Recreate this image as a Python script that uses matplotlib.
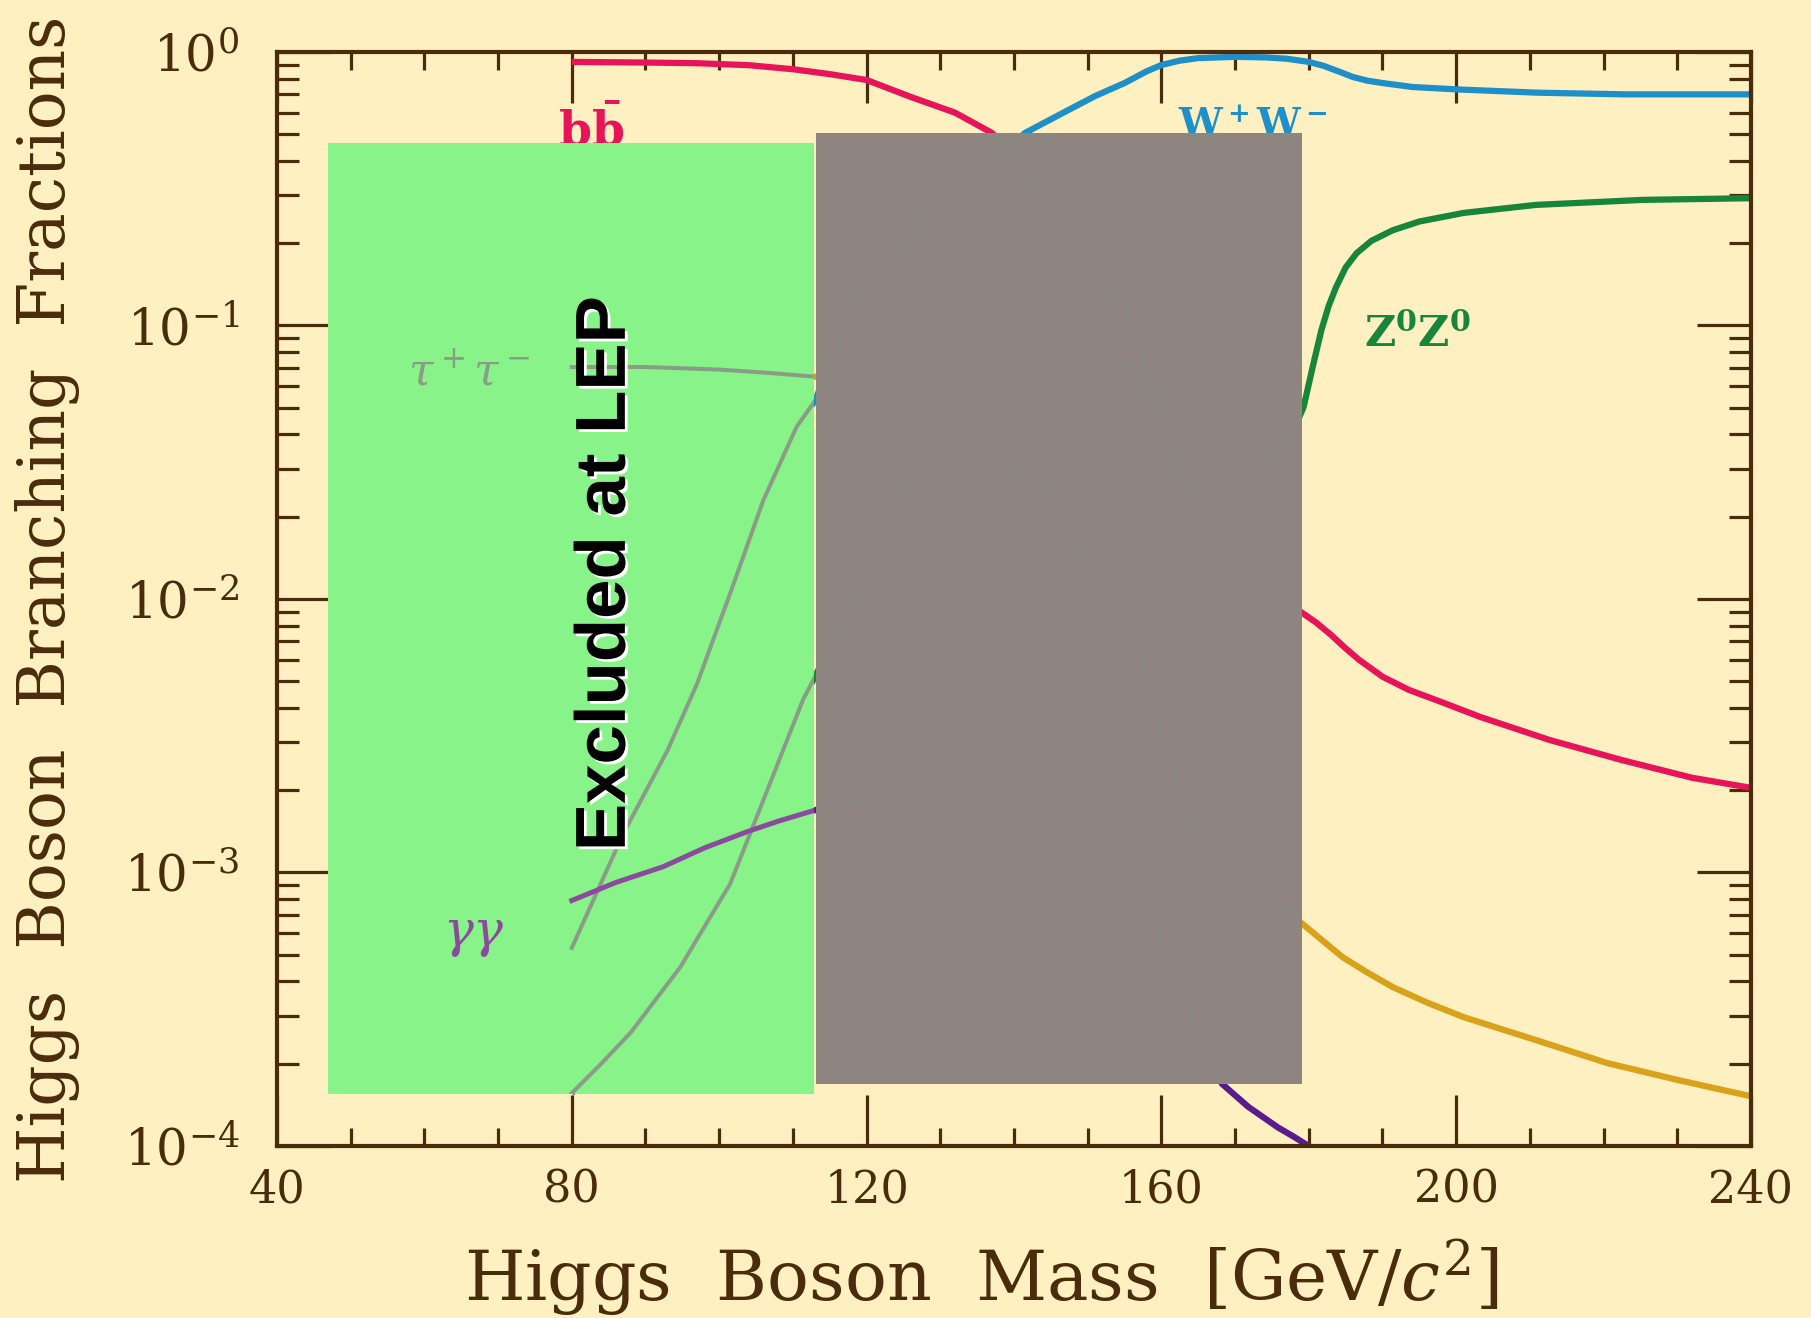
import matplotlib
matplotlib.use("Agg")
import matplotlib.pyplot as plt
import matplotlib.patheffects as pe
from matplotlib.patches import Rectangle
from matplotlib.ticker import MultipleLocator, LogLocator, NullFormatter, FixedLocator

plt.rcParams['mathtext.fontset'] = 'dejavuserif'
plt.rcParams['font.family'] = ['DejaVu Serif', 'DejaVu Sans']

# ---------------- data ----------------
bb_mass = [80, 90, 97, 104, 110, 115, 120, 126, 132, 137, 141, 145, 150, 154, 157, 160, 163, 167,
           172, 179.1, 181, 183, 185, 186.8, 190, 193.6, 198, 203.2, 212.7, 222.4, 232, 240]
bb_br = [0.92, 0.915, 0.91, 0.895, 0.865, 0.83, 0.79, 0.685, 0.60, 0.506, 0.40, 0.29, 0.20, 0.135,
         0.085, 0.045, 0.026, 0.017, 0.012, 0.0089, 0.0082, 0.0074, 0.0066, 0.0060, 0.0052,
         0.00465, 0.0042, 0.00371, 0.00305, 0.00258, 0.00222, 0.00204]

tau_mass = [80, 90, 100, 107, 113, 120, 126.6, 133, 140, 145, 150, 154, 157, 160, 163, 167.3, 172,
            179.1, 182, 184.6, 188, 191.4, 196, 201, 210.8, 220.5, 230.2, 240]
tau_br = [0.0705, 0.0705, 0.069, 0.067, 0.065, 0.058, 0.050, 0.041, 0.031, 0.023, 0.015, 0.0100,
          0.0063, 0.0034, 0.0019, 0.00121, 0.00090, 0.00065, 0.00056, 0.00049, 0.00043,
          0.000381, 0.000335, 0.000296, 0.000244, 0.000201, 0.000174, 0.000152]

ww_mass = [80, 87, 93, 97, 101.5, 106, 110.5, 113, 117.5, 122, 126.6, 131, 135.7, 141.5, 147.4,
           151, 155, 158, 160, 162.5, 165, 170, 174.3, 177, 180, 182, 184, 186, 188, 190, 194,
           200, 211, 223, 240]
ww_br = [5.3e-4, 1.39e-3, 2.8e-3, 4.9e-3, 0.0105, 0.023, 0.0426, 0.053, 0.107, 0.165, 0.223,
         0.30, 0.37, 0.506, 0.614, 0.69, 0.77, 0.85, 0.896, 0.93, 0.95, 0.96, 0.955, 0.945, 0.92,
         0.89, 0.85, 0.81, 0.785, 0.77, 0.745, 0.73, 0.71, 0.70, 0.70]

zz_mass = [80, 84, 88, 94.7, 101.5, 106, 111.4, 113, 117.5, 122, 126.6, 131, 135.7, 142, 149,
           153, 156, 158.5, 160.5, 163, 166.3, 170, 174, 177, 179.3, 180.5, 181.7, 182.7, 183.7,
           185, 186.5, 188.5, 191.4, 195, 201, 210.8, 225.4, 240]
zz_br = [1.56e-4, 2.0e-4, 2.6e-4, 4.5e-4, 9.1e-4, 1.84e-3, 4.3e-3, 5.2e-3, 9.1e-3, 0.016, 0.027,
         0.038, 0.048, 0.066, 0.077, 0.075, 0.0687, 0.055, 0.0415, 0.029, 0.0217, 0.0225, 0.028,
         0.036, 0.0504, 0.07, 0.096, 0.118, 0.138, 0.163, 0.184, 0.204, 0.223, 0.240, 0.258,
         0.276, 0.288, 0.292]

gam_mass = [80, 86, 92.4, 98, 103.8, 108, 113, 120, 126.6, 133, 140, 145, 149.2, 153, 156,
            158.5, 160.5, 163, 165, 168.2, 171.8, 175.8, 178, 180.5]
gam_br = [7.9e-4, 9.2e-4, 1.05e-3, 1.23e-3, 1.41e-3, 1.54e-3, 1.69e-3, 1.9e-3, 2.0e-3, 1.95e-3,
          1.74e-3, 1.55e-3, 1.32e-3, 1.1e-3, 9.1e-4, 7.0e-4, 5.2e-4, 3.5e-4, 2.6e-4, 1.69e-4,
          1.39e-4, 1.17e-4, 1.08e-4, 9.8e-5]

x_ticks = [40, 80, 120, 160, 200, 240]
y_ticks = [1e-4, 1e-3, 1e-2, 1e-1, 1e0]
y_tick_labels = [r'$10^{-4}$', r'$10^{-3}$', r'$10^{-2}$', r'$10^{-1}$', r'$10^{0}$']

# overlay boxes: [x0, x1, y0, y1]
lep_box = [46.9, 112.9, 1.55e-4, 0.465]
gray_box = [113.1, 179.1, 1.69e-4, 0.506]

# ---------------- style ----------------
BG = '#FEF0C1'
INK = '#4A2C0C'
C_BB = '#E8145A'
C_WW = '#1E8FC8'
C_ZZ = '#17853A'
C_TAU = '#D9A21A'
C_GAM = '#5A1C8C'
C_GREEN = '#88F388'
C_GRAYBOX = '#8E8580'
C_INGREEN = '#8A9C88'
C_GAM_IN = '#8C4A9E'
C_FAINT = '#8A8782'

fig = plt.figure(figsize=(18.11, 13.18), dpi=100, facecolor=BG)
ax = fig.add_axes([0.15295, 0.1305, 0.81391, 0.83005])
ax.set_facecolor(BG)
ax.set_yscale('log')
ax.set_xlim(40, 240)
ax.set_ylim(1e-4, 1)

series = [
    (bb_mass, bb_br, C_BB),
    (tau_mass, tau_br, C_TAU),
    (ww_mass, ww_br, C_WW),
    (zz_mass, zz_br, C_ZZ),
    (gam_mass, gam_br, C_GAM),
]
for xs, ys, c in series:
    ax.plot(xs, ys, color=c, lw=4.5, zorder=2, solid_capstyle='butt', solid_joinstyle='round')

# labels drawn under the boxes
ax.text(78.1, 0.457, r'$\mathbf{b\bar{b}}$', color=C_BB, fontsize=34, va='baseline', ha='left', zorder=2)
ax.text(162.3, 0.489, r'$\mathbf{W^+W^-}$', color=C_WW, fontsize=28, va='baseline', ha='left', zorder=2)
ax.text(187.5, 0.0834, r'$\mathbf{Z^0Z^0}$', color=C_ZZ, fontsize=31, va='baseline', ha='left', zorder=2)

# boxes
g = Rectangle((lep_box[0], lep_box[2]), lep_box[1] - lep_box[0], lep_box[3] - lep_box[2],
              facecolor=C_GREEN, edgecolor='none', zorder=3)
ax.add_patch(g)
r = Rectangle((gray_box[0], gray_box[2]), gray_box[1] - gray_box[0], gray_box[3] - gray_box[2],
              facecolor=C_GRAYBOX, edgecolor='none', zorder=3)
ax.add_patch(r)

# curves seen through the green box
for xs, ys, c in [(tau_mass, tau_br, C_INGREEN), (ww_mass, ww_br, C_INGREEN),
                  (zz_mass, zz_br, C_INGREEN), (gam_mass, gam_br, C_GAM_IN)]:
    ln, = ax.plot(xs, ys, color=c, lw=3.6 if c == C_GAM_IN else 2.9, zorder=4,
                  solid_joinstyle='round')
    ln.set_clip_path(g)
# faint curves seen through the gray box
for xs, ys, c in series:
    ln, = ax.plot(xs, ys, color=C_FAINT, lw=2.2, zorder=4, solid_joinstyle='round')
    ln.set_clip_path(r)

ax.text(57.8, 0.0606, r'$\tau^+\tau^-$', color=C_INGREEN, fontsize=32, va='baseline', ha='left', zorder=5)
ax.text(62.5, 5.4e-4, r'$\gamma\gamma$', color=C_GAM_IN, fontsize=36, va='baseline', ha='left', zorder=5)

ax.text(87.2, 0.0124, 'Excluded at LEP', rotation=90, rotation_mode='anchor', ha='center',
        va='baseline', fontsize=51, fontweight='bold', family=['Liberation Sans', 'DejaVu Sans'],
        color='black', zorder=6,
        path_effects=[pe.withSimplePatchShadow(offset=(2, -2), shadow_rgbFace='white', alpha=1.0)])

# ticks and spines
ax.xaxis.set_major_locator(FixedLocator(x_ticks))
ax.xaxis.set_minor_locator(MultipleLocator(10))
ax.set_xticklabels([str(v) for v in x_ticks])
ax.yaxis.set_major_locator(FixedLocator(y_ticks))
ax.set_yticklabels(y_tick_labels)
ax.yaxis.set_minor_locator(LogLocator(base=10, subs=range(2, 10), numticks=20))
ax.yaxis.set_minor_formatter(NullFormatter())

ax.tick_params(axis='both', which='both', direction='in', top=True, right=True, color=INK,
               labelcolor=INK)
ax.tick_params(axis='x', which='major', length=37, width=2.3, pad=16, labelsize=32)
ax.tick_params(axis='x', which='minor', length=13, width=2.3)
ax.tick_params(axis='y', which='major', length=39, width=2.3, pad=27, labelsize=36)
ax.tick_params(axis='y', which='minor', length=16, width=2.3)
for s in ax.spines.values():
    s.set_color(INK)
    s.set_linewidth(3.0)
    s.set_zorder(7)

fig.text(0.542, 0.0129, r'Higgs  Boson  Mass  $[\mathrm{GeV}/c^{2}]$', ha='center', va='baseline',
         fontsize=50, color=INK)
fig.text(0.026, 0.545, 'Higgs  Boson  Branching  Fractions', rotation=90, ha='center', va='center',
         fontsize=46.5, color=INK)

fig.savefig('out.png', dpi=100, facecolor=BG)
